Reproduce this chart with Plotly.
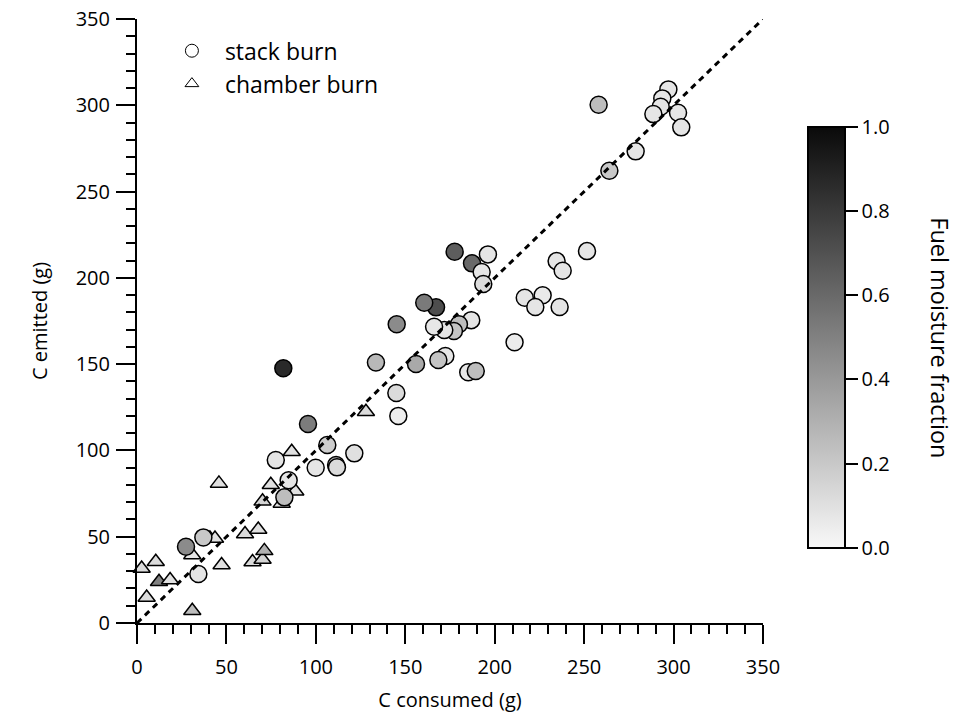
import plotly.graph_objects as go

# ---- data: stack burn (circles) ----
stack_consumed = [297.1, 293.7, 292.8, 288.7, 302.5, 304.3, 258.1, 278.8, 264.1, 251.6,
                  234.6, 238.0, 216.8, 226.8, 222.7, 236.3, 211.1, 185.2, 189.4, 177.6,
                  187.3, 196.2, 192.7, 193.6, 186.9, 180.0, 177.2, 171.8, 166.1, 167.2,
                  160.6, 145.2, 172.4, 168.5, 156.0, 133.6, 145.0, 146.1, 81.8, 95.6,
                  106.4, 121.5, 99.9, 111.3, 111.8, 77.6, 84.8, 82.4, 37.1, 27.4, 34.3]
stack_emitted = [309.2, 304.0, 299.2, 294.9, 295.7, 287.2, 300.3, 273.3, 262.1, 215.5,
                 209.7, 204.1, 188.5, 189.9, 183.1, 183.1, 162.7, 145.3, 146.0, 215.1,
                 208.4, 213.6, 203.4, 196.4, 175.5, 173.1, 169.2, 169.8, 171.7, 182.9,
                 185.6, 173.1, 154.7, 152.4, 150.1, 151.0, 133.3, 120.0, 147.6, 115.3,
                 103.1, 98.3, 90.0, 91.5, 90.2, 94.4, 82.7, 72.8, 49.6, 44.2, 28.4]
stack_moisture = [0.08, 0.08, 0.08, 0.08, 0.08, 0.08, 0.25, 0.08, 0.20, 0.08,
                  0.08, 0.08, 0.08, 0.06, 0.08, 0.08, 0.05, 0.07, 0.25, 0.65,
                  0.60, 0.08, 0.08, 0.12, 0.08, 0.25, 0.22, 0.08, 0.07, 0.72,
                  0.53, 0.46, 0.08, 0.22, 0.33, 0.27, 0.12, 0.04, 0.87, 0.52,
                  0.18, 0.10, 0.08, 0.30, 0.12, 0.08, 0.08, 0.25, 0.20, 0.46, 0.08]

# ---- data: chamber burn (triangles) ----
chamber_consumed = [2.6, 10.5, 5.4, 12.3, 18.5, 30.9, 30.9, 40.8, 43.6, 45.8, 47.3,
                    60.4, 64.6, 67.8, 70.2, 71.2, 70.2, 74.8, 80.9, 88.5, 86.5, 128.0]
chamber_emitted = [31.6, 35.5, 14.8, 23.9, 24.9, 39.4, 7.1, 49.0, 49.0, 80.9, 33.6,
                   51.6, 35.3, 54.2, 36.8, 41.8, 70.5, 80.1, 69.3, 76.3, 99.2, 122.4]
chamber_moisture = [0.12, 0.12, 0.12, 0.50, 0.10, 0.08, 0.25, 0.08, 0.10, 0.10, 0.10,
                    0.12, 0.12, 0.10, 0.15, 0.30, 0.15, 0.10, 0.10, 0.10, 0.10, 0.12]

legend_names = ["stack burn", "chamber burn"]
one_to_one = [0, 350]

FONT = "Open Sans"

fig = go.Figure()

fig.add_trace(go.Scatter(
    x=chamber_consumed, y=chamber_emitted, mode="markers", showlegend=False,
    cliponaxis=False,
    marker=dict(symbol="triangle-up", size=15, color=chamber_moisture,
                coloraxis="coloraxis", line=dict(color="black", width=1.5))))

fig.add_trace(go.Scatter(
    x=stack_consumed, y=stack_emitted, mode="markers", showlegend=False,
    cliponaxis=False,
    marker=dict(symbol="circle", size=17, color=stack_moisture,
                coloraxis="coloraxis", line=dict(color="black", width=1.5))))

fig.add_trace(go.Scatter(
    x=one_to_one, y=one_to_one, mode="lines", showlegend=False,
    line=dict(color="black", width=3, dash="6px,5px")))

# legend-only entries
fig.add_trace(go.Scatter(
    x=[None], y=[None], mode="markers", name=legend_names[0],
    marker=dict(symbol="circle-open", size=13, color="black", line=dict(width=1))))
fig.add_trace(go.Scatter(
    x=[None], y=[None], mode="markers", name=legend_names[1],
    marker=dict(symbol="triangle-up-open", size=12, color="black", line=dict(width=1))))

axis_common = dict(
    range=[0, 350], dtick=50, tick0=0, ticks="outside", ticklen=19, tickwidth=2,
    tickcolor="black", showline=True, linewidth=2, linecolor="black",
    showgrid=False, zeroline=False, automargin=False,
    minor=dict(dtick=10, ticks="outside", ticklen=9, tickwidth=2, tickcolor="black",
               showgrid=False),
    tickfont=dict(family=FONT, size=20, color="black"),
)

fig.update_layout(
    width=957, height=721,
    margin=dict(l=137, r=194, t=19, b=98, autoexpand=False),
    paper_bgcolor="white", plot_bgcolor="white",
    font=dict(family=FONT, size=20, color="black"),
    xaxis=dict(**axis_common, ticklabelstandoff=6,
               title=dict(text="C consumed (g)", font=dict(family=FONT, size=20), standoff=14)),
    yaxis=dict(**axis_common, ticklabelstandoff=2,
               title=dict(text="C emitted (g)", font=dict(family=FONT, size=20), standoff=23)),
    coloraxis=dict(
        cmin=0, cmax=1,
        colorscale=[[0, "rgb(248,248,248)"], [1, "rgb(10,10,10)"]],
        colorbar=dict(
            x=1.072, xanchor="left", xpad=0, y=0.473, yanchor="middle", ypad=0,
            len=421, lenmode="pixels", thickness=37, thicknessmode="pixels",
            outlinewidth=2, outlinecolor="black",
            ticks="outside", ticklen=12, tickwidth=2, tickcolor="black",
            tickvals=[0, 0.2, 0.4, 0.6, 0.8, 1.0], tickformat=".1f",
            tickfont=dict(family=FONT, size=20, color="black"),
        ),
    ),
    annotations=[dict(
        text="Fuel moisture fraction", textangle=90, showarrow=False,
        xref="paper", yref="paper", x=(940 - 137) / 626, y=0.473,
        xanchor="center", yanchor="middle",
        font=dict(family=FONT, size=23.5, color="black"))],
    legend=dict(x=0.035, y=0.983, xanchor="left", yanchor="top",
                bgcolor="rgba(0,0,0,0)", font=dict(family=FONT, size=23),
                itemwidth=56, tracegroupgap=0),
)

fig.write_html("out.html")
